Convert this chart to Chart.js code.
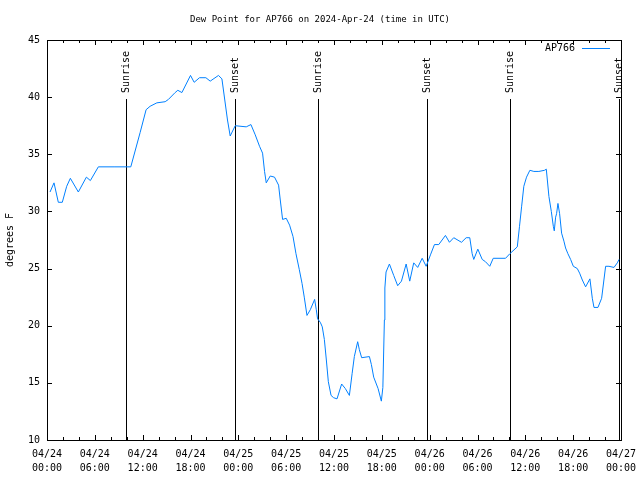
<!DOCTYPE html>
<html>
<head>
<meta charset="utf-8">
<title>Dew Point for AP766</title>
<script src="https://cdn.jsdelivr.net/npm/chart.js@4/dist/chart.umd.min.js"></script>
<style>
  html, body { margin: 0; padding: 0; background: #ffffff; }
  canvas { display: block; }
</style>
</head>
<body>
<canvas id="chart-dewpoint" width="640" height="480"></canvas>
<script>
// ==========================================
// DEW POINT - AP766 (hours since 04/24 00:00 UTC)
// ==========================================

const stationName = 'AP766';
const chartTitle = 'Dew Point for AP766 on 2024-Apr-24 (time in UTC)';
const yAxisLabel = 'degrees F';

const obsHours = [
  0.38, 0.88, 1.42, 1.92, 2.47, 2.93, 3.93, 4.94, 5.44, 6.44,
  8.41, 10.51, 11.68, 12.43, 12.93, 13.78, 14.82, 15.23, 16.07, 16.41,
  16.92, 18.0, 18.46, 19.13, 19.93, 20.47, 21.51, 21.94, 22.64, 22.98,
  23.61, 24.99, 25.58, 26.12, 26.66, 27.04, 27.29, 27.5, 28.0, 28.54,
  29.05, 29.26, 29.55, 30.01, 30.43, 30.86, 31.23, 31.65, 31.99, 32.27,
  32.61, 33.03, 33.57, 33.78, 33.94, 34.28, 34.53, 34.79, 35.04, 35.29,
  35.63, 35.95, 36.38, 36.96, 37.42, 37.93, 38.27, 38.55, 38.97, 39.18,
  39.47, 40.44, 40.69, 40.98, 41.53, 41.94, 42.13, 42.32, 42.38, 42.53,
  42.95, 43.49, 43.99, 44.46, 45.05, 45.5, 46.0, 46.5, 47.06, 47.56,
  48.1, 48.6, 49.14, 49.98, 50.48, 51.02, 51.99, 52.58, 53.03, 53.33,
  53.53, 54.04, 54.59, 55.0, 55.54, 55.97, 57.52, 58.06, 58.99, 59.27,
  59.53, 59.81, 60.15, 60.57, 61.07, 61.7, 62.41, 62.63, 62.96, 63.26,
  63.51, 63.63, 63.8, 63.92, 64.09, 64.3, 64.55, 64.84, 65.05, 65.34,
  65.68, 66.02, 66.52, 66.81, 67.15, 67.56, 68.1, 68.4, 68.61, 69.11,
  69.57, 70.07, 70.49, 71.12, 71.54, 71.75
];

const dewPoint = [
  31.7, 32.5, 30.8, 30.8, 32.2, 32.9, 31.7, 33.0, 32.7, 33.9,
  33.9, 33.9, 36.9, 38.9, 39.2, 39.5, 39.6, 39.8, 40.4, 40.6,
  40.4, 41.9, 41.3, 41.7, 41.7, 41.4, 41.9, 41.6, 38.0, 36.6,
  37.5, 37.4, 37.6, 36.7, 35.7, 35.1, 33.5, 32.5, 33.1, 33.0,
  32.3, 31.0, 29.3, 29.4, 28.8, 27.8, 26.3, 24.9, 23.7, 22.5,
  20.9, 21.4, 22.3, 21.4, 20.6, 20.3, 19.9, 18.8, 17.0, 15.1,
  13.9, 13.7, 13.6, 14.9, 14.5, 13.9, 15.8, 17.3, 18.6, 17.9,
  17.2, 17.3, 16.6, 15.5, 14.5, 13.4, 14.6, 20.5, 23.3, 24.7,
  25.4, 24.4, 23.5, 23.9, 25.4, 23.9, 25.5, 25.1, 25.9, 25.2,
  26.2, 27.1, 27.1, 27.9, 27.3, 27.7, 27.3, 27.7, 27.7, 26.3,
  25.8, 26.7, 25.8, 25.6, 25.2, 25.9, 25.9, 26.3, 26.9, 28.7,
  30.4, 32.2, 33.0, 33.6, 33.5, 33.5, 33.6, 33.7, 31.3, 30.0,
  28.7, 28.3, 29.5, 29.8, 30.7, 29.8, 28.1, 27.4, 26.8, 26.3,
  25.8, 25.2, 25.0, 24.6, 24.0, 23.4, 24.1, 22.4, 21.6, 21.6,
  22.4, 25.2, 25.2, 25.1, 25.5, 25.8
];

const sunriseHours = [9.97, 34.05, 58.05];
const sunsetHours = [23.62, 47.65, 71.72];

const tickFont = { family: 'DejaVu Sans Mono', size: 10 };
const lineColor = '#0080ff';

function pad2(n) {
  return (n < 10 ? '0' : '') + n;
}

// "04/24" / "06:00" style two-line labels
function formatHourLabel(value) {
  const day = 24 + Math.floor(value / 24);
  const hour = value % 24;
  return ['04/' + day, pad2(hour) + ':00'];
}

// Frame, inward ticks, sun lines, title and legend (gnuplot look)
const gnuplotDecor = {
  id: 'gnuplotDecor',
  beforeDatasetsDraw(chart) {
    const { ctx, chartArea: a, scales } = chart;
    const xs = scales.x;
    ctx.save();
    ctx.strokeStyle = '#000000';
    ctx.lineWidth = 1;

    // sunrise / sunset markers
    const marks = sunriseHours.map(h => ({ h, text: 'Sunrise' }))
      .concat(sunsetHours.map(h => ({ h, text: 'Sunset' })));
    ctx.font = '10px "DejaVu Sans Mono"';
    ctx.fillStyle = '#000000';
    marks.forEach(m => {
      const px = Math.round(xs.getPixelForValue(m.h)) + 0.5;
      ctx.beginPath();
      ctx.moveTo(px, 99);
      ctx.lineTo(px, a.bottom);
      ctx.stroke();
      ctx.save();
      ctx.translate(px, 93);
      ctx.rotate(-Math.PI / 2);
      ctx.textAlign = 'left';
      ctx.textBaseline = 'middle';
      ctx.fillText(m.text, 0, 0);
      ctx.restore();
    });
    ctx.restore();
  },
  afterDraw(chart) {
    const { ctx, chartArea: a, scales } = chart;
    const xs = scales.x, ys = scales.y;
    ctx.save();
    ctx.strokeStyle = '#000000';
    ctx.lineWidth = 1;
    ctx.beginPath();

    // x ticks every 2 hours, longer on 6 hour marks
    for (let h = 0; h <= 72; h += 2) {
      const px = Math.round(xs.getPixelForValue(h)) + 0.5;
      const len = h % 6 === 0 ? 5 : 3;
      ctx.moveTo(px, a.bottom); ctx.lineTo(px, a.bottom - len);
      ctx.moveTo(px, a.top); ctx.lineTo(px, a.top + len);
    }
    // y ticks
    for (let v = 10; v <= 45; v += 5) {
      const py = Math.round(ys.getPixelForValue(v)) + 0.5;
      ctx.moveTo(a.left, py); ctx.lineTo(a.left + 5, py);
      ctx.moveTo(a.right, py); ctx.lineTo(a.right - 5, py);
    }
    ctx.stroke();

    // frame
    ctx.strokeRect(Math.round(a.left) + 0.5, Math.round(a.top) + 0.5,
      Math.round(a.right - a.left), Math.round(a.bottom - a.top));

    // title
    ctx.fillStyle = '#000000';
    ctx.font = '9px "DejaVu Sans Mono"';
    ctx.textAlign = 'center';
    ctx.textBaseline = 'middle';
    ctx.fillText(chartTitle, 320, 20);

    // legend (top right, inside)
    ctx.font = '10px "DejaVu Sans Mono"';
    ctx.textAlign = 'right';
    ctx.fillText(stationName, 575, 48);
    ctx.strokeStyle = lineColor;
    ctx.beginPath();
    ctx.moveTo(582, 48.5);
    ctx.lineTo(610, 48.5);
    ctx.stroke();
    ctx.restore();
  }
};

function renderDewPointChart() {
  const ctx = document.getElementById('chart-dewpoint').getContext('2d');
  const points = obsHours.map((h, i) => ({ x: h, y: dewPoint[i] }));

  window.dewChart = new Chart(ctx, {
    type: 'line',
    data: {
      datasets: [{
        label: stationName,
        data: points,
        borderColor: lineColor,
        borderWidth: 1,
        pointRadius: 0,
        tension: 0,
        fill: false
      }]
    },
    options: {
      responsive: false,
      animation: false,
      layout: { padding: { left: 0, right: 19, top: 40, bottom: 0 } },
      plugins: {
        legend: { display: false },
        title: { display: false },
        tooltip: { enabled: false }
      },
      scales: {
        x: {
          type: 'linear',
          min: 0,
          max: 72,
          grid: { display: false, drawTicks: false },
          border: { display: false },
          ticks: {
            stepSize: 6,
            autoSkip: false,
            maxRotation: 0,
            padding: 7,
            color: '#000000',
            font: { family: 'DejaVu Sans Mono', size: 10, lineHeight: 1.4 },
            callback: value => formatHourLabel(value)
          },
          afterFit: scale => {
            scale.height = 40;
            scale.paddingLeft = 0;
            scale.paddingRight = 0;
          }
        },
        y: {
          min: 10,
          max: 45,
          grid: { display: false, drawTicks: false },
          border: { display: false },
          ticks: {
            stepSize: 5,
            padding: 7,
            color: '#000000',
            font: tickFont
          },
          title: {
            display: true,
            text: yAxisLabel,
            color: '#000000',
            font: tickFont,
            padding: { top: 4, bottom: 0 }
          },
          afterFit: scale => { scale.width = 47; }
        }
      }
    },
    plugins: [gnuplotDecor]
  });
}

renderDewPointChart();
</script>
</body>
</html>
